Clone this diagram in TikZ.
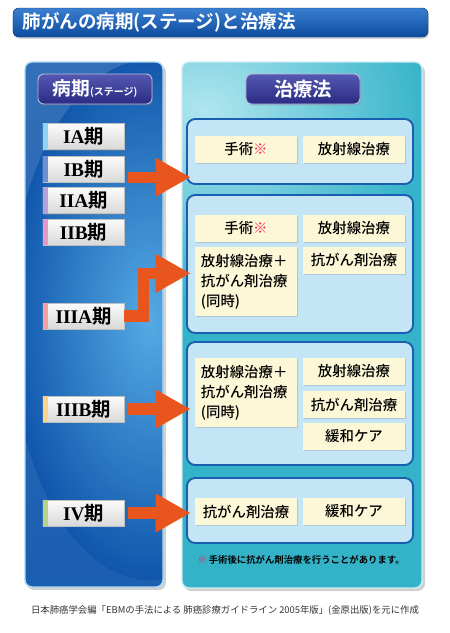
\documentclass[tikz,border=0pt]{standalone}
\usepackage{fontspec}
\setmainfont{Noto Sans CJK JP}[BoldFont=* Bold]
\newfontfamily\medfont{Noto Sans CJK JP Medium}
\newfontfamily\romfont{Liberation Serif}
\usetikzlibrary{arrows.meta,shadows}

\definecolor{barblue}{HTML}{0C4C9E}
\definecolor{barlight}{HTML}{3A7ED0}
\definecolor{stageblue}{HTML}{0F56AC}
\definecolor{glowblue}{HTML}{5AB2EA}
\definecolor{panelteal}{HTML}{33B2C8}
\definecolor{glowteal}{HTML}{B0E6EF}
\definecolor{headtop}{HTML}{5558B0}
\definecolor{headbot}{HTML}{2A2C84}
\definecolor{groupfill}{HTML}{C4E5F6}
\definecolor{groupline}{HTML}{1A5EB2}
\definecolor{cream}{HTML}{FCF7D6}
\definecolor{arrred}{HTML}{E8561E}
\definecolor{notered}{HTML}{F0285A}
\definecolor{srcgray}{HTML}{333333}
\definecolor{stIA}{HTML}{8FD3F4}
\definecolor{stIB}{HTML}{6E8FD0}
\definecolor{stIIA}{HTML}{B3A3D6}
\definecolor{stIIB}{HTML}{E39AC8}
\definecolor{stIIIA}{HTML}{F4A0A0}
\definecolor{stIIIB}{HTML}{FBD38C}
\definecolor{stIV}{HTML}{B5D48A}

\newcommand{\stg}[1]{{\romfont\bfseries #1}\textbf{期}}

\tikzset{
  titlebar/.style={draw=barblue!80!black, rounded corners=5pt, top color=barlight, bottom color=barblue,
    minimum width=12.45cm, minimum height=0.87cm,
    drop shadow={shadow xshift=0.8pt,shadow yshift=-1.5pt,opacity=0.35}},
  headbox/.style={draw=white!60!headtop, line width=0.8pt, rounded corners=5pt, top color=headtop, bottom color=headbot,
    minimum width=3.42cm, minimum height=0.9cm, text=white,
    drop shadow={shadow xshift=0.8pt,shadow yshift=-1.2pt,opacity=0.35}},
  stagebox/.style={draw=gray!50, top color=gray!3, bottom color=gray!30, minimum width=2.43cm, minimum height=0.78cm,
    inner sep=0pt, font=\fontsize{16.5}{16.5}\selectfont,
    drop shadow={shadow xshift=1pt,shadow yshift=-1.2pt,opacity=0.4}},
  groupbox/.style={draw=groupline, line width=1.6pt, fill=groupfill, rounded corners=7pt, minimum width=6.78cm},
  treat/.style={fill=cream, minimum width=3.06cm, minimum height=0.81cm, inner sep=0pt,
    font=\medfont\fontsize{12.3}{17}\selectfont,
    drop shadow={shadow xshift=1pt,shadow yshift=-1pt,opacity=0.3}},
  bigtreat/.style={treat, minimum height=2.07cm, align=left},
  bigarrow/.style={draw=arrred, line width=9.5pt, -{Triangle[length=30pt,width=31pt]}},
  panelrim/.style={line width=1.2pt, rounded corners=6pt},
}

\begin{document}
\begin{tikzpicture}[x=0.03cm,y=-0.03cm]
\useasboundingbox (0,0) rectangle (450,633);

% titel
\node[titlebar] (title) at (220.5,22.5) {};
\node[anchor=west, text=white, font=\fontsize{15.8}{15.8}\selectfont\bfseries] (titletxt) at (title.west) {\hspace{5pt}肺がんの病期(ステージ)と治療法};

% Schatten der Tafeln
\fill[black, opacity=0.18, rounded corners=6pt] (27,65) rectangle (166,590);
\fill[black, opacity=0.18, rounded corners=6pt] (184,65) rectangle (425,591);

% linke Seite
\begin{scope}
  \clip[rounded corners=6pt] (25,62) rectangle (163,587);
  \fill[top color=stageblue!85!white, bottom color=stageblue!95!white] (25,62) rectangle (163,587);
  \shade[inner color=glowblue, outer color=stageblue, opacity=0.9] (150,320) ellipse (140 and 260);
\end{scope}
\draw[panelrim, draw=glowblue!50!white] (25,62) rectangle (163,587);

% rechte Seite
\begin{scope}
  \clip[rounded corners=6pt] (182,62) rectangle (422,588);
  \fill[panelteal] (182,62) rectangle (422,588);
  \shade[inner color=glowteal, outer color=panelteal] (205,110) ellipse (230 and 190);
\end{scope}
\draw[panelrim, draw=glowteal!70!white] (182,62) rectangle (422,588);

% Kopfzeilen
\node[headbox] (hstage) at (95,89) {\fontsize{16}{16}\selectfont\bfseries 病期\fontsize{8.5}{8.5}\selectfont(ステージ)};
\node[headbox] (htreat) at (303,89) {\fontsize{16.5}{16.5}\selectfont\bfseries 治療法};

% Stadien
\node[stagebox] (s1a) at (83.5,136.5) {\stg{IA}};
\node[stagebox] (s1b) at (83.5,169) {\stg{IB}};
\node[stagebox] (s2a) at (83.5,200.5) {\stg{IIA}};
\node[stagebox] (s2b) at (83.5,232) {\stg{IIB}};
\node[stagebox] (s3a) at (83.5,316) {\stg{IIIA}};
\node[stagebox] (s3b) at (83.5,409) {\stg{IIIB}};
\node[stagebox] (s4) at (83.5,513) {\stg{IV}};
\foreach \s/\c in {s1a/stIA, s1b/stIB, s2a/stIIA, s2b/stIIB, s3a/stIIIA, s3b/stIIIB, s4/stIV}
  \fill[\c] (\s.north west) rectangle ([xshift=4.2pt]\s.south west);

% Gruppen
\node[groupbox, minimum height=1.95cm] (g1) at (300,151.5) {};
\node[groupbox, minimum height=4.14cm] (g2) at (300,264) {};
\node[groupbox, minimum height=3.69cm] (g3) at (300,403.5) {};
\node[groupbox, minimum height=1.95cm] (g4) at (300,510.5) {};

% Behandlungen
\node[treat] (t1a) at (246,149.5) {手術{\color{notered}※}};
\node[treat] (t1b) at (354,149.5) {放射線治療};
\node[treat] (t2a) at (246,228.5) {手術{\color{notered}※}};
\node[treat] (t2b) at (354,228.5) {放射線治療};
\node[bigtreat] (t2c) at (246,281.5) {\makebox[2.7cm][l]{放射線治療＋}\\抗がん剤治療\\(同時)};
\node[treat] (t2d) at (354,260) {抗がん剤治療};
\node[bigtreat] (t3a) at (246,392.5) {\makebox[2.7cm][l]{放射線治療＋}\\抗がん剤治療\\(同時)};
\node[treat] (t3b) at (354,371.5) {放射線治療};
\node[treat] (t3c) at (354,404.5) {抗がん剤治療};
\node[treat] (t3d) at (354,436.5) {緩和ケア};
\node[treat] (t4a) at (246,511.5) {抗がん剤治療};
\node[treat] (t4b) at (354,511.5) {緩和ケア};

% Pfeile
\coordinate (a1) at ([yshift=-7pt]s1b.east);
\coordinate (a3) at ([yshift=-8pt]g2.west);
\draw[bigarrow, shorten <=3pt, shorten >=-4pt] (a1) -- (a1 -| g1.west);
\draw[bigarrow, line join=miter, shorten >=-4pt] (s3a.east) -- ++(19,0) |- (a3);
\draw[bigarrow, shorten <=3pt, shorten >=-4pt] (s3b.east) -- (s3b.east -| g3.west);
\draw[bigarrow, shorten <=3pt, shorten >=-4pt] (s4.east) -- (s4.east -| g4.west);

% Fussnoten
\node[font=\fontsize{8}{8}\selectfont\bfseries] (note) at (301,560) {{\color{notered}※} 手術後に抗がん剤治療を行うことがあります。};
\node[text=srcgray, font=\fontsize{8}{8}\selectfont] (src) at (225,610) {日本肺癌学会編「EBMの手法による\ 肺癌診療ガイドライン\ 2005年版」(金原出版)を元に作成};
\end{tikzpicture}
\end{document}
